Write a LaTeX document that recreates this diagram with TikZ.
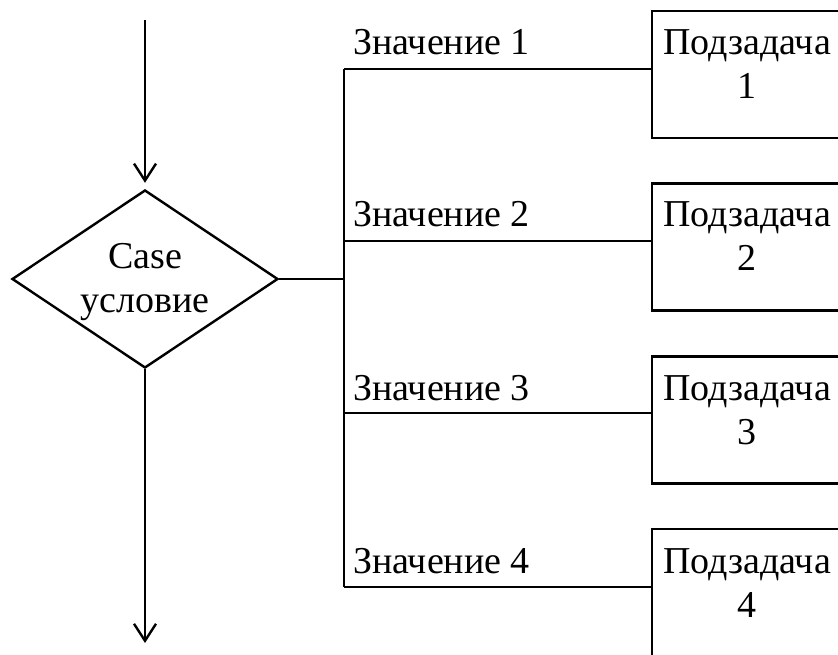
\documentclass[tikz,border=0pt]{standalone}
\usepackage{fontspec}
\setmainfont{Liberation Serif}
\usetikzlibrary{shapes.geometric,arrows.meta}
\begin{document}
\begin{tikzpicture}[x=1pt,y=-1pt,line width=2.4pt,
  txt/.style={font=\fontsize{38}{44}\selectfont,inner sep=0pt,anchor=base},
  lbl/.style={font=\fontsize{38}{44}\selectfont,inner sep=0pt,anchor=base west},
  box/.style={draw,rectangle,minimum width=190pt,minimum height=127pt,inner sep=0pt},
  cond/.style={draw,diamond,minimum width=266pt,minimum height=178pt,inner sep=0pt,aspect=1.494},
  arr/.style={-{Straight Barb[length=17pt,width=22pt,line width=2.4pt]}}]
\path[use as bounding box] (0,0) rectangle (838,655);
\clip (0,0) rectangle (838,655);
% decision
\node[cond] (c) at (145,279) {};
\node[txt] (ct1) at (145,268) {Case};
\node[txt] (ct2) at (145,312) {условие};
\coordinate (start) at (145,20);
\coordinate (end) at (145,643);
\draw[arr,shorten >=6pt] (start) -- (c.north);
\draw[arr] (c.south) -- (end);
% bus
\coordinate (j0) at (344,279);
\coordinate (j1) at (344,69);
\coordinate (j2) at (344,241);
\coordinate (j3) at (344,413);
\coordinate (j4) at (344,587);
\draw (c.east) -- (j0);
\draw (j1) -- (j4);
% boxes
\node[box] (b1) at (747,74.5) {};
\node[box] (b2) at (747,247) {};
\node[box] (b3) at (747,420) {};
\node[box] (b4) at (747,592.5) {};
\draw (j1) -- (j1 -| b1.west);
\draw (j2) -- (j2 -| b2.west);
\draw (j3) -- (j3 -| b3.west);
\draw (j4) -- (j4 -| b4.west);
% labels
\node[lbl] (v1) at (352,55) {Значение 1};
\node[lbl] (v2) at (352,227) {Значение 2};
\node[lbl] (v3) at (352,400) {Значение 3};
\node[lbl] (v4) at (352,573) {Значение 4};
\node[txt] (p1a) at (747,55) {Подзадача};
\node[txt] (p1b) at (747,99) {1};
\node[txt] (p2a) at (747,226) {Подзадача};
\node[txt] (p2b) at (747,270) {2};
\node[txt] (p3a) at (747,400) {Подзадача};
\node[txt] (p3b) at (747,444) {3};
\node[txt] (p4a) at (747,573) {Подзадача};
\node[txt] (p4b) at (747,617) {4};
\end{tikzpicture}
\end{document}
